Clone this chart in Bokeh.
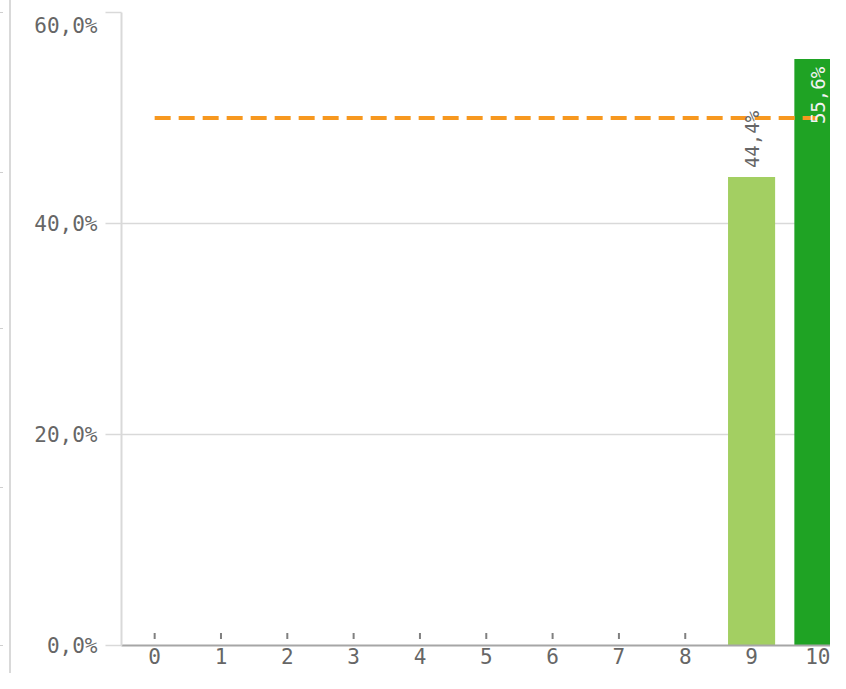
import math
from bokeh.plotting import figure
from bokeh.models import ColumnDataSource, FixedTicker, Div, Range1d, LinearAxis
from bokeh.layouts import row
from bokeh.embed import file_html
from bokeh.resources import INLINE
from bokeh.core.properties import value

# ---- data ----
categories = ["0", "1", "2", "3", "4", "5", "6", "7", "8", "9", "10"]
values = [0.0, 0.0, 0.0, 0.0, 0.0, 0.0, 0.0, 0.0, 0.0, 44.4, 55.6]
bar_colors = ["#a3cf62", "#a3cf62", "#a3cf62", "#a3cf62", "#a3cf62", "#a3cf62",
              "#a3cf62", "#a3cf62", "#a3cf62", "#a3cf62", "#1fa324"]
target = 50.0
y_ticks = [0, 20, 40, 60]
y_tick_labels = ["0,0%", "20,0%", "40,0%", "60,0%"]

# ---- layout constants ----
FONT = "DejaVu Sans Mono"
STRIP_W = 11
W, H = 830 - STRIP_W, 673
B_LEFT, B_RIGHT, B_TOP, B_BOTTOM = 110, 0, 12, 28
Y_MAX = y_ticks[-1]
X_START, X_END = -0.5, 10.19
frame_h = H - B_TOP - B_BOTTOM
px_per_y = frame_h / (Y_MAX - 0)

xs = list(range(len(categories)))

p = figure(width=W, height=H, output_backend="svg", toolbar_location=None,
           x_range=Range1d(X_START, X_END), y_range=Range1d(0, Y_MAX),
           min_border_left=B_LEFT, min_border_right=B_RIGHT,
           min_border_top=B_TOP, min_border_bottom=B_BOTTOM,
           background_fill_color="white", border_fill_color="white")
p.outline_line_color = None
p.xgrid.grid_line_color = None
p.ygrid.grid_line_color = "#d9d9d9"
p.ygrid.grid_line_width = 1.5
p.ygrid.ticker = FixedTicker(ticks=y_ticks)

# inner y axis: line + outward tick marks only
ax1 = p.yaxis[0]
ax1.ticker = FixedTicker(ticks=y_ticks)
ax1.major_label_overrides = {t: "" for t in y_ticks}
ax1.major_label_standoff = 0
ax1.major_label_text_font_size = "1px"
ax1.axis_line_color = "#d9d9d9"
ax1.axis_line_width = 2
ax1.major_tick_line_color = "#d9d9d9"
ax1.major_tick_line_width = 1.5
ax1.major_tick_out = 16
ax1.major_tick_in = 0
ax1.minor_tick_line_color = None

# outer y axis: labels only (top label kept inside the canvas)
label_ticks = list(y_ticks[:-1]) + [y_ticks[-1] - 13 / px_per_y]
ax2 = LinearAxis(ticker=FixedTicker(ticks=label_ticks),
                 major_label_overrides={t: l for t, l in zip(label_ticks, y_tick_labels)})
ax2.axis_line_color = None
ax2.major_tick_line_color = None
ax2.minor_tick_line_color = None
ax2.major_tick_out = 0
ax2.major_tick_in = 0
ax2.major_label_standoff = 8
ax2.major_label_text_font = FONT
ax2.major_label_text_font_size = "21px"
ax2.major_label_text_color = "#666666"
p.add_layout(ax2, "left")

# x axis
p.xaxis.ticker = FixedTicker(ticks=xs)
p.xaxis.major_label_overrides = {i: c for i, c in zip(xs, categories)}
p.xaxis.axis_line_color = "#a6a6a6"
p.xaxis.axis_line_width = 2
p.xaxis.major_tick_line_color = None
p.xaxis.minor_tick_line_color = None
p.xaxis.major_tick_out = 0
p.xaxis.major_label_standoff = 2
p.xaxis.major_label_text_font = FONT
p.xaxis.major_label_text_font_size = "21px"
p.xaxis.major_label_text_color = "#666666"

# small category markers above the axis line
marker_y = 9.5 / px_per_y
p.scatter(x=xs, y=[marker_y] * len(xs), marker="dash", angle=math.pi / 2,
          size=6, line_color="#808080", line_width=2)

# bars
src = ColumnDataSource(dict(x=xs, top=values, color=bar_colors))
p.vbar(x="x", top="top", width=0.71, source=src, fill_color="color", line_color=None)

# target line
p.line(x=[xs[0], xs[-1]], y=[target, target], line_color="#f7981f",
       line_width=4, line_dash="16 8")

# value labels
label_len_units = 70 / px_per_y
out_x, out_y, out_t, in_x, in_y, in_t = [], [], [], [], [], []
for x, v in zip(xs, values):
    if v <= 0:
        continue
    t = f"{v:.1f}".replace(".", ",") + "%"
    if v + label_len_units <= Y_MAX:
        out_x.append(x); out_y.append(v); out_t.append(t)
    else:
        in_x.append(x); in_y.append(v); in_t.append(t)

p.text(x=out_x, y=out_y, text=out_t, angle=math.pi / 2, text_align="left",
       text_baseline="middle", y_offset=-9, text_font=value(FONT),
       text_font_size="19px", text_color="#666666")
p.text(x=in_x, y=in_y, text=in_t, angle=math.pi / 2, text_align="right",
       text_baseline="middle", y_offset=8, text_font=value(FONT),
       text_font_size="19px", text_color="#f2f2f2")

# neighbouring panel edge on the far left
strip_ticks = [12, 172, 328, 487, 645]
strip_html = "".join(
    f'<div style="position:absolute;left:0;top:{t}px;width:3px;height:1px;background:#cfcfcf"></div>'
    for t in strip_ticks)
strip = Div(text=strip_html, width=STRIP_W, height=H, margin=0,
            styles={"border-right": "2px solid #d9d9d9", "box-sizing": "border-box",
                    "position": "relative"})

layout = row(strip, p)
open("out.html", "w").write(file_html(layout, INLINE))
